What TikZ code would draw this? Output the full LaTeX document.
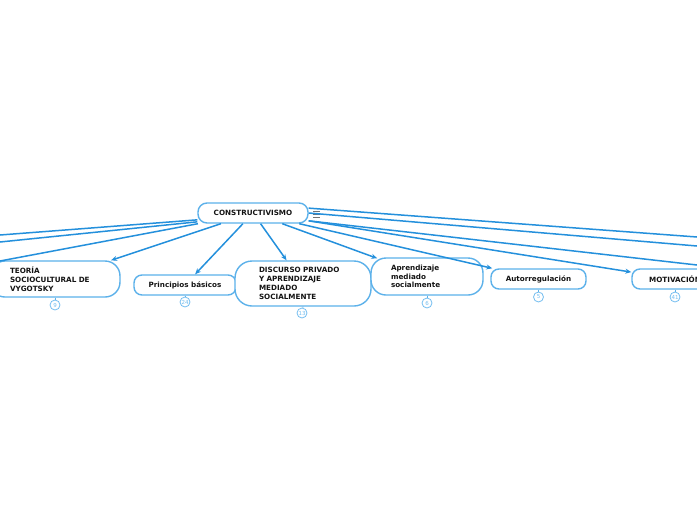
\documentclass[tikz,border=0pt]{standalone}
\usepackage{fontspec}
\setmainfont{DejaVu Sans}
\usepackage{xcolor}
\usetikzlibrary{arrows.meta}

\definecolor{linkblue}{HTML}{2490DC}
\definecolor{boxblue}{HTML}{5CB1EA}
\definecolor{cntblue}{HTML}{74BEF0}

\begin{document}
\begin{tikzpicture}[
  x=1pt,y=-1pt,
  font=\fontsize{7.2}{8.8}\selectfont\bfseries,
  box/.style={draw=boxblue,line width=1.4pt,fill=white,text=black!92,
              inner sep=0pt,align=center},
  root/.style={box,minimum width=110pt,minimum height=20pt,rounded corners=9pt},
  flat/.style={box,minimum height=20pt,rounded corners=8pt},
  tall/.style={box,align=left,rounded corners=15pt},
  cnt/.style={circle,draw=cntblue,line width=0.8pt,fill=white,inner sep=0pt,
              minimum size=10pt,text=cntblue,font=\fontsize{5.5}{6}\selectfont},
  link/.style={linkblue,line width=1.5pt},
  tick/.style={boxblue,line width=0.8pt},
  >={Stealth[length=6pt,width=5pt]}
]
\useasboundingbox (0,0) rectangle (697,520);
\clip (0,0) rectangle (697,520);
\fill[white] (0,0) rectangle (697,520);

% ---- main topic ----
\node[root] (cons) at (253,213) {CONSTRUCTIVISMO};
\draw[black!55,line width=0.9pt] (313,211) -- (320,211)
  (313,214) -- (320,214) (313,217) -- (320,217);

% ---- sub topics ----
\node[tall,minimum width=130pt,minimum height=36pt,text width=90pt]
  (vyg) at (55,279) {TEORÍA\\SOCIOCULTURAL DE\\VYGOTSKY};
\node[flat,minimum width=102pt] (prin) at (185,285) {Principios básicos};
\node[tall,minimum width=136pt,minimum height=45pt,text width=88pt,rounded corners=17pt]
  (disc) at (303,283.5) {DISCURSO PRIVADO\\Y APRENDIZAJE\\MEDIADO\\SOCIALMENTE};
\node[tall,minimum width=112pt,minimum height=37pt,text width=72pt]
  (apre) at (427,276.5) {Aprendizaje\\mediado\\socialmente};
\node[flat,minimum width=95pt] (auto) at (538.5,279) {Autorregulación};
\node[flat,minimum width=86pt] (moti) at (675,279) {MOTIVACIÓN};

% ---- loose ends off the page ----
\coordinate (w1) at (0,235);
\coordinate (w2) at (0,242);
\coordinate (w3) at (0,261);
\coordinate (e1) at (697,237);
\coordinate (e2) at (697,246);
\coordinate (e3) at (697,265);

% ---- connectors ----
\draw[link] (cons.187) -- (w1);
\draw[link] (cons.189) -- (w2);
\draw[link] (cons.191) -- (w3);
\draw[link] (cons.5) -- (e1);
\draw[link] (cons.0) -- (e2);
\draw[link] (cons.352) -- (e3);
\draw[link,->] (cons) -- (vyg);
\draw[link,->] (cons) -- (prin);
\draw[link,->] (cons) -- (disc);
\draw[link,->,shorten >=-3pt] (cons) -- (apre);
\draw[link,->] (cons) -- (auto);
\draw[link,->] (cons.352) -- (moti);

% ---- counters ----
\node[cnt] (n1) at (55,305) {9};
\node[cnt] (n2) at (185,302) {24};
\node[cnt] (n3) at (302,313) {13};
\node[cnt] (n4) at (427,303) {6};
\node[cnt] (n5) at (538.5,297) {5};
\node[cnt] (n6) at (675,297) {41};
\draw[tick] (vyg) -- (n1);
\draw[tick] (prin) -- (n2);
\draw[tick] (disc.south) -- (n3);
\draw[tick] (apre) -- (n4);
\draw[tick] (auto) -- (n5);
\draw[tick] (moti) -- (n6);
\end{tikzpicture}
\end{document}
